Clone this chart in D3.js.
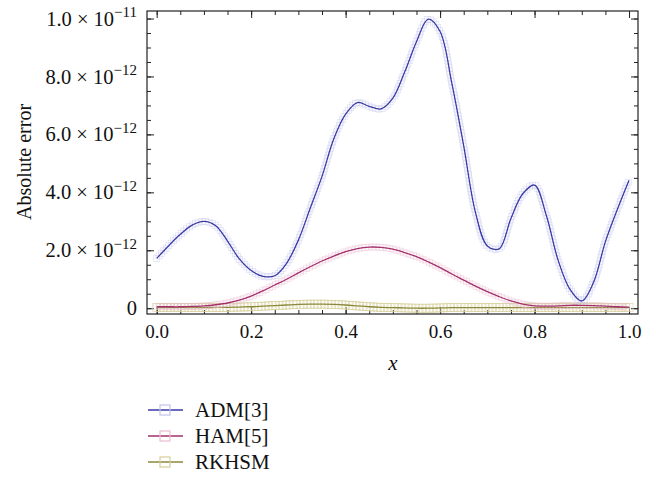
<!DOCTYPE html>
<html>
<head>
    <meta charset="UTF-8">
    <title>Absolute error</title>
    <script src="https://cdnjs.cloudflare.com/ajax/libs/d3/7.8.5/d3.min.js"></script>
    <style>
        body { margin: 0; background: #fff; }
        .axis path { display: none; }
        .axis line { stroke: #222; stroke-width: 1; }
    </style>
</head>
<body>
<script type="text/javascript">
    const width = 656;
    const height = 477;
    const serifFont = "Liberation Serif";

    // x grid of the sampled values
    const xs = [0, 0.025, 0.05, 0.075, 0.1, 0.125, 0.15, 0.175, 0.2, 0.225,
                0.25, 0.275, 0.3, 0.325, 0.35, 0.375, 0.4, 0.425, 0.45, 0.475,
                0.5, 0.525, 0.55, 0.575, 0.6, 0.625, 0.65, 0.675, 0.7, 0.725,
                0.75, 0.775, 0.8, 0.825, 0.85, 0.875, 0.9, 0.925, 0.95, 0.975, 1];
    // values in units of 1e-12
    const adm = [1.72, 2.15, 2.55, 2.87, 3.00, 2.85, 2.32, 1.70, 1.30, 1.10,
                 1.12, 1.55, 2.35, 3.45, 4.55, 5.85, 6.70, 7.10, 6.97, 6.88,
                 7.25, 8.15, 9.20, 9.98, 9.55, 7.75, 5.60, 3.30, 2.15, 2.05,
                 3.10, 3.95, 4.25, 3.20, 1.65, 0.65, 0.25, 0.90, 2.30, 3.40, 4.42];
    const ham = [0.05, 0.05, 0.05, 0.06, 0.08, 0.12, 0.18, 0.28, 0.42, 0.60,
                 0.80, 1.00, 1.22, 1.43, 1.63, 1.80, 1.95, 2.06, 2.11, 2.10,
                 2.04, 1.92, 1.78, 1.60, 1.40, 1.18, 0.97, 0.76, 0.57, 0.40,
                 0.25, 0.14, 0.08, 0.07, 0.08, 0.10, 0.10, 0.09, 0.07, 0.05, 0.04];
    const rkhsm = [0.02, 0.02, 0.02, 0.02, 0.02, 0.03, 0.03, 0.04, 0.05, 0.07,
                   0.09, 0.11, 0.13, 0.14, 0.14, 0.13, 0.11, 0.08, 0.05, 0.03,
                   0.02, 0.01, 0.00, 0.00, 0.01, 0.02, 0.02, 0.02, 0.02, 0.02,
                   0.02, 0.02, 0.02, 0.02, 0.02, 0.02, 0.02, 0.02, 0.02, 0.02, 0.02];

    const seriesNames = ["ADM[3]", "HAM[5]", "RKHSM"];
    const lineColors = ["#3a3aa6", "#a3306c", "#8c883a"];
    const markColors = ["#c2c2ec", "#ebbcd2", "#d6cf98"];
    const allSeries = [adm, ham, rkhsm];

    const xTicks = [0, 0.2, 0.4, 0.6, 0.8, 1.0];
    const xTickLabels = ["0.0", "0.2", "0.4", "0.6", "0.8", "1.0"];
    const yTicks = [0, 2e-12, 4e-12, 6e-12, 8e-12, 1e-11];
    const yTickMant = ["0", "2.0", "4.0", "6.0", "8.0", "1.0"];
    const yTickExp = ["", "\u221212", "\u221212", "\u221212", "\u221212", "\u221211"];

    const pLeft = 147, pRight = 638, pTop = 11, pBottom = 314;

    const xScale = d3.scaleLinear().domain([-0.0205, 1.019]).range([pLeft, pRight]);
    const yScale = d3.scaleLinear().domain([-0.2e-12, 10.26e-12]).range([pBottom, pTop]);

    const svg = d3.select("body").append("svg")
        .attr("width", width).attr("height", height);

    // ticks, all pointing inward
    const xMinor = d3.range(0, 1.0001, 0.05);
    const yMinor = d3.range(0, 10.26e-12, 0.5e-12);

    function addAxis(gen, tr) {
        return svg.append("g").attr("class", "axis")
            .attr("transform", tr).call(gen);
    }
    addAxis(d3.axisBottom(xScale).tickValues(xMinor).tickSize(-4).tickFormat(""), `translate(0,${pBottom})`);
    addAxis(d3.axisTop(xScale).tickValues(xMinor).tickSize(-4).tickFormat(""), `translate(0,${pTop})`);
    addAxis(d3.axisTop(xScale).tickValues(xTicks).tickSize(-7).tickFormat(""), `translate(0,${pTop})`);
    addAxis(d3.axisLeft(yScale).tickValues(yMinor).tickSize(-4).tickFormat(""), `translate(${pLeft},0)`);
    addAxis(d3.axisRight(yScale).tickValues(yMinor).tickSize(-4).tickFormat(""), `translate(${pRight},0)`);
    addAxis(d3.axisRight(yScale).tickValues(yTicks).tickSize(-7).tickFormat(""), `translate(${pRight},0)`);

    const xAxis = addAxis(d3.axisBottom(xScale).tickValues(xTicks).tickSize(-7)
        .tickPadding(10.5).tickFormat((d, i) => xTickLabels[i]), `translate(0,${pBottom})`);
    xAxis.selectAll("text").attr("font-size", 19);

    const yAxis = addAxis(d3.axisLeft(yScale).tickValues(yTicks).tickSize(-7)
        .tickPadding(10).tickFormat(""), `translate(${pLeft},0)`);
    yAxis.selectAll(".tick text").each(function(d, i) {
        const t = d3.select(this).attr("font-size", 20.5)
            .attr("x", -10).attr("dy", "0.32em");
        if (yTickExp[i] === "") { t.text(yTickMant[i]); return; }
        t.append("tspan").text(yTickMant[i] + " \u00d7 10");
        t.append("tspan").attr("font-size", 15).attr("dy", "-0.55em").text(yTickExp[i]);
    });

    // frame
    svg.append("rect")
        .attr("x", pLeft).attr("y", pTop)
        .attr("width", pRight - pLeft).attr("height", pBottom - pTop)
        .attr("fill", "none").attr("stroke", "#222").attr("stroke-width", 1.2);

    const line = d3.line()
        .x((d, i) => xScale(xs[i]))
        .y(d => yScale(d * 1e-12))
        .curve(d3.curveCatmullRom.alpha(0.5));

    // draw in reverse so ADM stays on top
    [2, 1, 0].forEach(k => {
        const g = svg.append("g");
        const path = g.append("path")
            .attr("d", line(allSeries[k]))
            .attr("fill", "none")
            .attr("stroke", lineColors[k])
            .attr("stroke-width", 1.3);
        // plot markers spread along the drawn curve
        const node = path.node();
        const len = node.getTotalLength();
        const marks = d3.range(0, len, 3.5).map(l => node.getPointAtLength(l));
        const sz = k === 2 ? 8 : 6;
        g.insert("g", "path").selectAll("rect")
            .data(marks)
            .join("rect")
            .attr("x", p => p.x - sz / 2)
            .attr("y", p => p.y - sz / 2)
            .attr("width", sz).attr("height", sz)
            .attr("fill", "none")
            .attr("stroke", markColors[k])
            .attr("stroke-width", 0.7)
            .attr("opacity", k === 2 ? 0.75 : 0.55);
    });

    // axis titles
    svg.append("text")
        .attr("transform", "translate(31,162) rotate(-90)")
        .attr("text-anchor", "middle")
        .attr("font-size", 20)
        .text("Absolute error");
    svg.append("text")
        .attr("x", 393).attr("y", 370)
        .attr("text-anchor", "middle")
        .attr("font-size", 21)
        .attr("font-style", "italic")
        .text("x");

    // legend
    const legend = svg.append("g");
    seriesNames.forEach((name, i) => {
        const y = 410 + i * 26;
        legend.append("line")
            .attr("x1", 148).attr("x2", 183).attr("y1", y).attr("y2", y)
            .attr("stroke", lineColors[i]).attr("stroke-width", 1.4);
        legend.append("rect")
            .attr("x", 160).attr("y", y - 5).attr("width", 10).attr("height", 10)
            .attr("fill", "none").attr("stroke", markColors[i]).attr("stroke-width", 1.2);
        legend.append("text")
            .attr("x", 195).attr("y", y).attr("dy", "0.33em")
            .attr("font-size", 21)
            .text(name);
    });

    // same serif face on every text
    svg.selectAll("text").attr("font-family", serifFont).attr("fill", "#111");
</script>
</body>
</html>
